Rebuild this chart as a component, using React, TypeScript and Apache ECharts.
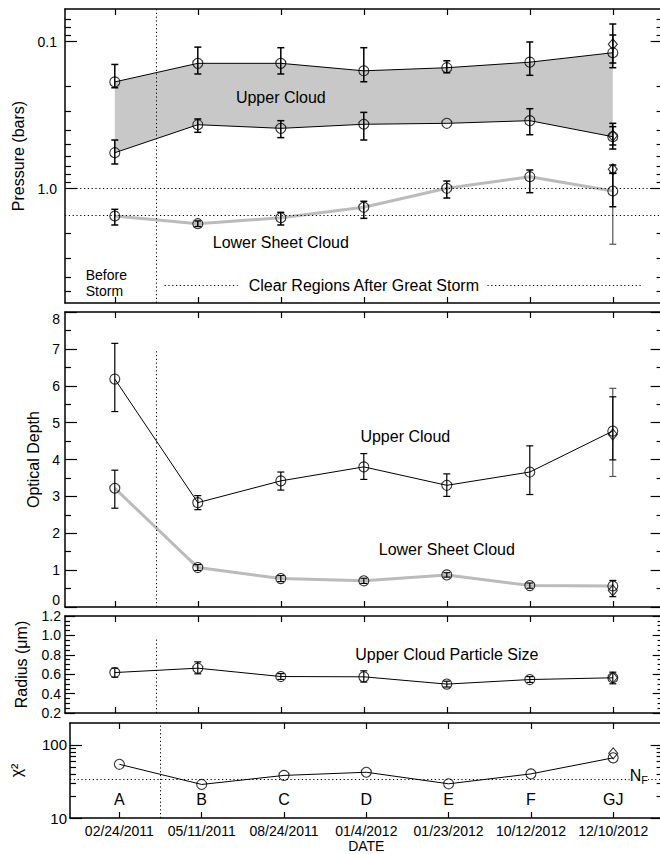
import React, { useEffect, useRef } from 'react';
import * as echarts from 'echarts';

// ---------- data ----------
const categories = ['A', 'B', 'C', 'D', 'E', 'F', 'GJ'];
const dates = ['02/24/2011', '05/11/2011', '08/24/2011', '01/4/2012', '01/23/2012', '10/12/2012', '12/10/2012'];

// Panel 1: pressure (bars)
const upperTopP = [0.188, 0.1405, 0.1405, 0.158, 0.1505, 0.138, 0.119];
const upperTopLo = [0.143, 0.109, 0.110, 0.110, 0.135, 0.1006, 0.0902];
const upperTopHi = [0.206, 0.166, 0.166, 0.1875, 0.163, 0.1695, 0.1505];
const upperBotP = [0.570, 0.3675, 0.389, 0.365, 0.3596, 0.345, 0.4436];
const upperBotLo = [0.467, 0.336, 0.345, 0.303, null, 0.286, 0.3596];
const upperBotHi = [0.680, 0.414, 0.450, 0.467, null, 0.430, 0.538];
const lowerP = [1.536, 1.733, 1.578, 1.34, 0.995, 0.83, 1.038];
const lowerPLo = [1.383, 1.66, 1.45, 1.22, 0.888, 0.747, 0.787];
const lowerPHi = [1.768, 1.81, 1.768, 1.593, 1.159, 1.066, 1.328];
// GJ alternative fit (diamonds): upper top, upper bottom, lower sheet
const gjDiamondP = [0.1043, 0.437, 0.739];
const gjDiamondPLo = [0.0759, 0.379, 0.691];
const gjDiamondPHi = [0.1398, 0.505, 0.787];
const gjLowerWideP = [0.787, 2.39];
const refPressures = [1.0, 1.5];

// Panel 2: optical depth
const upperTau = [6.18, 2.83, 3.42, 3.80, 3.30, 3.66, 4.77];
const upperTauLo = [5.30, 2.64, 3.17, 3.46, 3.00, 3.05, 3.99];
const upperTauHi = [7.15, 3.02, 3.66, 4.16, 3.61, 4.37, 5.70];
const lowerTau = [3.22, 1.07, 0.77, 0.71, 0.87, 0.58, 0.57];
const lowerTauLo = [2.68, 0.99, 0.69, 0.64, 0.81, 0.51, 0.28];
const lowerTauHi = [3.71, 1.15, 0.85, 0.78, 0.93, 0.65, 0.72];
const gjDiamondTau = [4.68, 0.45];
const gjUpperWideTau = [3.54, 5.93];

// Panel 3: radius (um)
const radius = [0.617, 0.662, 0.576, 0.573, 0.498, 0.545, 0.563];
const radiusLo = [0.570, 0.604, 0.546, 0.519, 0.468, 0.515, 0.501];
const radiusHi = [0.662, 0.727, 0.606, 0.635, 0.528, 0.575, 0.621];
const gjDiamondRadius = [0.565];

// Panel 4: chi^2
const chi2 = [54.4, 28.8, 38.3, 42.3, 29.4, 40.2, 66.7];
const gjDiamondChi2 = [76.9];
const nF = 34;

// ---------- helpers ----------
const FONT = 'Liberation Sans, Arial, Helvetica, sans-serif';
const L = (v: number) => Math.log10(v);
const I = (v: number) => v;
const GJ = 6;
const XMIN = -0.6;
const XMAX = 6.6;

const grids = [
  { left: 65, top: 9, width: 597.6, height: 294 },
  { left: 65, top: 312, width: 597.6, height: 295 },
  { left: 65, top: 616, width: 597.6, height: 97 },
  { left: 65, top: 723, width: 597.6, height: 98 },
];

// edgeLo / edgeHi: labels at the ends of the range, each on its own label-only axis
const panels: any[] = [
  {
    T: L, min: L(0.06), max: L(6), inverse: true,
    majors: [0.1, 1], labels: ['0.1', '1.0'], edgeLo: null, edgeHi: null,
    minors: [0.07, 0.08, 0.09, 0.2, 0.3, 0.4, 0.5, 0.6, 0.7, 0.8, 0.9, 2, 3, 4, 5],
    name: 'Pressure (bars)', nameGap: 34, margin: 8, fs: 14, majLen: 12, minLen: 6,
  },
  {
    T: I, min: 0, max: 8, inverse: false,
    majors: [0, 1, 2, 3, 4, 5, 6, 7, 8], labels: ['0', '1', '2', '3', '4', '5', '6', '7', '8'],
    edgeLo: { v: 0, va: 'bottom' }, edgeHi: { v: 8, va: 'top' },
    minors: [0.5, 1.5, 2.5, 3.5, 4.5, 5.5, 6.5, 7.5],
    name: 'Optical Depth', nameGap: 22, margin: 5, fs: 14, majLen: 12, minLen: 6,
  },
  {
    T: I, min: 0.2, max: 1.2, inverse: false,
    majors: [0.2, 0.4, 0.6, 0.8, 1.0, 1.2], labels: ['0.2', '0.4', '0.6', '0.8', '1.0', '1.2'],
    edgeLo: { v: 0.2, va: 'middle' }, edgeHi: { v: 1.2, va: 'middle' },
    minors: [0.25, 0.3, 0.35, 0.45, 0.5, 0.55, 0.65, 0.7, 0.75, 0.85, 0.9, 0.95, 1.05, 1.1, 1.15],
    name: 'Radius (\u03bcm)', nameGap: 36, margin: 4, fs: 14, majLen: 10, minLen: 5,
  },
  {
    T: L, min: 1, max: L(200), inverse: false,
    majors: [10, 100], labels: ['10', '100'], edgeLo: null, edgeHi: null,
    minors: [20, 30, 40, 50, 60, 70, 80, 90],
    name: '\u03c7\u00b2', nameGap: 46, margin: 3, fs: 15, majLen: 12, minLen: 6,
  },
];

const DOT: any = [1.2, 2.6];

function buildOption() {
  const xAxis: any[] = [];
  const yAxis: any[] = [];
  const idxTicks = categories.map((_, i) => i);
  grids.forEach((_, g) => {
    const base = {
      gridIndex: g, type: 'value', min: XMIN, max: XMAX,
      splitLine: { show: false },
      axisLine: { show: true, onZero: false, lineStyle: { color: '#000', width: 1.5 } },
      axisTick: { show: true, inside: true, length: 6, customValues: idxTicks, lineStyle: { color: '#000', width: 1.2 } },
    };
    xAxis.push({
      ...base, position: 'bottom',
      axisLabel: g === 3
        ? { show: true, customValues: idxTicks, formatter: (v: number) => dates[Math.round(v)] ?? '', margin: 6, fontSize: 14, fontFamily: FONT, color: '#000' }
        : { show: false },
      name: g === 3 ? 'DATE' : '', nameLocation: 'middle', nameGap: 21,
      nameTextStyle: { fontSize: 14, fontFamily: FONT, color: '#000' },
    });
    xAxis.push({ ...base, position: 'top', axisLabel: { show: false } });
  });

  panels.forEach((p, g) => {
    const majT = p.majors.map(p.T);
    const minT = p.minors.map(p.T);
    const edges = [p.edgeLo, p.edgeHi].filter(Boolean).map((e: any) => p.T(e.v));
    const innerT = majT.filter((m: number) => !edges.some((e: number) => Math.abs(e - m) < 1e-9));
    const fmt = (v: number) => {
      const k = majT.findIndex((m: number) => Math.abs(m - v) < 1e-6);
      return k >= 0 ? p.labels[k] : '';
    };
    const common = { gridIndex: g, type: 'value', min: p.min, max: p.max, inverse: p.inverse, splitLine: { show: false } };
    const labelBase = {
      show: true, formatter: fmt, margin: p.margin, fontSize: p.fs, fontFamily: FONT, color: '#000', hideOverlap: false,
    };
    for (const pos of ['left', 'right']) {
      yAxis.push({
        ...common, position: pos,
        axisLine: { show: true, onZero: false, lineStyle: { color: '#000', width: 1.5 } },
        axisTick: { show: true, inside: true, length: p.majLen, customValues: majT, lineStyle: { color: '#000', width: 1.2 } },
        axisLabel: pos === 'left' ? { ...labelBase, customValues: innerT } : { show: false },
        name: pos === 'left' ? p.name : '', nameLocation: 'middle', nameRotate: 90, nameGap: p.nameGap,
        nameTextStyle: { fontSize: 16, fontFamily: FONT, color: '#000' },
      });
      yAxis.push({
        ...common, position: pos,
        axisLine: { show: false, onZero: false },
        axisTick: { show: true, inside: true, length: p.minLen, customValues: minT, lineStyle: { color: '#000', width: 1.2 } },
        axisLabel: { show: false },
      });
    }
    // one label-only axis per range end
    for (const e of [p.edgeLo, p.edgeHi]) {
      yAxis.push({
        ...common, position: 'left',
        axisLine: { show: false, onZero: false },
        axisTick: { show: false },
        axisLabel: e
          ? {
              ...labelBase, customValues: [p.T(e.v)], showMinLabel: true, showMaxLabel: true,
              verticalAlign: e.va, verticalAlignMinLabel: e.va, verticalAlignMaxLabel: e.va,
            }
          : { show: false },
      });
    }
  });

  const series: any[] = [];
  const ax = (g: number) => ({ xAxisIndex: 2 * g, yAxisIndex: 6 * g });

  const lineS = (g: number, vals: number[], color: string, width: number, z: number, markLine?: any) => ({
    type: 'line', ...ax(g), silent: true, symbol: 'none', z,
    data: vals.map((v, i) => [i, panels[g].T(v)]),
    lineStyle: { color, width }, markLine,
  });
  const markS = (g: number, pts: [number, number][], symbol = 'circle', size: any = 10) => ({
    type: 'scatter', ...ax(g), silent: true, symbol, symbolSize: size, z: 6,
    data: pts.map(([x, v]) => [x, panels[g].T(v)]),
    itemStyle: { color: 'rgba(0,0,0,0)', borderColor: '#000', borderWidth: 1.1 },
  });
  const errS = (g: number, items: [number, number | null, number | null][], color = '#000', width = 1.5, z = 4) => ({
    type: 'custom', ...ax(g), silent: true, z,
    data: items.filter((d) => d[1] != null && d[2] != null).map(([x, lo, hi]) => [x, panels[g].T(lo as number), panels[g].T(hi as number)]),
    encode: { x: 0, y: [1, 2] },
    renderItem: (params: any, api: any) => {
      const x = api.value(0);
      const a = api.coord([x, api.value(1)]);
      const b = api.coord([x, api.value(2)]);
      const cw = 3.5;
      const style = { stroke: color, lineWidth: width };
      return {
        type: 'group',
        children: [
          { type: 'line', shape: { x1: a[0], y1: a[1], x2: b[0], y2: b[1] }, style },
          { type: 'line', shape: { x1: a[0] - cw, y1: a[1], x2: a[0] + cw, y2: a[1] }, style },
          { type: 'line', shape: { x1: b[0] - cw, y1: b[1], x2: b[0] + cw, y2: b[1] }, style },
        ],
      };
    },
  });
  const textS = (g: number, items: { t: string; x: number; v: number; align?: string; size?: number; rich?: any; bg?: string }[]) => ({
    type: 'custom', ...ax(g), silent: true, z: 8,
    data: items.map((d) => [d.x, panels[g].T(d.v)]),
    renderItem: (params: any, api: any) => {
      const d = items[params.dataIndex];
      const p = api.coord([api.value(0), api.value(1)]);
      return {
        type: 'text', x: p[0], y: p[1],
        style: {
          text: d.t, fontSize: d.size ?? 16, fontFamily: FONT, fill: '#000',
          align: d.align ?? 'center', verticalAlign: 'middle', rich: d.rich,
          backgroundColor: d.bg,
        },
      };
    },
  });
  const ml = (data: any[]) => ({
    silent: true, symbol: ['none', 'none'], label: { show: false }, animation: false,
    lineStyle: { type: DOT, color: '#000', width: 1 }, emphasis: { disabled: true }, data,
  });
  const idx = (arr: any[]) => arr.map((_, i) => i);

  // ---- Panel 1 ----
  const T0 = panels[0].T;
  series.push({
    type: 'custom', ...ax(0), silent: true, z: 1,
    data: [[0, T0(upperTopP[0])]],
    renderItem: (params: any, api: any) => {
      const top = upperTopP.map((v, i) => api.coord([i, T0(v)]));
      const bot = upperBotP.map((v, i) => api.coord([i, T0(v)])).reverse();
      return { type: 'polygon', shape: { points: [...top, ...bot] }, style: { fill: '#c8c8c8' } };
    },
  });
  series.push(lineS(0, upperTopP, '#000', 1, 3, ml([
    ...refPressures.map((v) => ({ yAxis: T0(v) })),
    { xAxis: 0.5 },
    [{ coord: [0.6, T0(4.53)] }, { coord: [1.48, T0(4.53)] }],
    [{ coord: [4.49, T0(4.53)] }, { coord: [6.36, T0(4.53)] }],
  ])));
  series.push(lineS(0, upperBotP, '#000', 1, 3));
  series.push(lineS(0, lowerP, '#bbbbbb', 3, 3));
  series.push(errS(0, idx(upperTopP).map((i) => [i, upperTopLo[i], upperTopHi[i]])));
  series.push(errS(0, idx(upperBotP).map((i) => [i, upperBotLo[i], upperBotHi[i]])));
  series.push(errS(0, [[GJ, gjLowerWideP[0], gjLowerWideP[1]]], '#555', 1.2, 3));
  series.push(errS(0, idx(lowerP).map((i) => [i, lowerPLo[i], lowerPHi[i]])));
  series.push(errS(0, gjDiamondP.map((v, k) => [GJ, gjDiamondPLo[k], gjDiamondPHi[k]])));
  series.push(markS(0, [...upperTopP, ...upperBotP, ...lowerP].map((v, k) => [k % 7, v] as [number, number])));
  series.push(markS(0, gjDiamondP.map((v) => [GJ, v] as [number, number]), 'diamond', [9, 11]));
  series.push(textS(0, [
    { t: 'Upper Cloud', x: 2.0, v: 0.241 },
    { t: 'Lower Sheet Cloud', x: 2.0, v: 2.34 },
    { t: 'Before', x: -0.35, v: 3.85, align: 'left', size: 14 },
    { t: 'Storm', x: -0.35, v: 4.96, align: 'left', size: 14 },
    { t: 'Clear Regions After Great Storm', x: 3.0, v: 4.53 },
  ]));

  // ---- Panel 2 ----
  series.push(lineS(1, upperTau, '#000', 1, 3, ml([
    [{ coord: [0.5, 0] }, { coord: [0.5, 7] }],
  ])));
  series.push(lineS(1, lowerTau, '#bbbbbb', 3, 3));
  series.push(errS(1, [[GJ, gjUpperWideTau[0], gjUpperWideTau[1]]], '#555', 1.2, 3));
  series.push(errS(1, idx(upperTau).map((i) => [i, upperTauLo[i], upperTauHi[i]]), '#000', 1.2));
  series.push(errS(1, idx(lowerTau).map((i) => [i, lowerTauLo[i], lowerTauHi[i]]), '#000', 1.2));
  series.push(markS(1, [...upperTau, ...lowerTau].map((v, k) => [k % 7, v] as [number, number])));
  series.push(markS(1, gjDiamondTau.map((v) => [GJ, v] as [number, number]), 'diamond', [9, 11]));
  series.push(textS(1, [
    { t: 'Upper Cloud', x: 3.5, v: 4.62 },
    { t: 'Lower Sheet Cloud', x: 4.0, v: 1.55 },
  ]));

  // ---- Panel 3 ----
  series.push(lineS(2, radius, '#000', 1, 3, ml([
    [{ coord: [0.5, 0.2] }, { coord: [0.5, 0.97] }],
  ])));
  series.push(errS(2, idx(radius).map((i) => [i, radiusLo[i], radiusHi[i]]), '#000', 1.2));
  series.push(markS(2, radius.map((v, i) => [i, v] as [number, number])));
  series.push(markS(2, gjDiamondRadius.map((v) => [GJ, v] as [number, number]), 'diamond', [9, 11]));
  series.push(textS(2, [{ t: 'Upper Cloud Particle Size', x: 4.0, v: 0.806 }]));

  // ---- Panel 4 ----
  const T3 = panels[3].T;
  series.push(lineS(3, chi2, '#000', 1, 3, ml([
    { xAxis: 0.5 },
    { yAxis: T3(nF) },
  ])));
  series.push(markS(3, chi2.map((v, i) => [i, v] as [number, number])));
  series.push(markS(3, gjDiamondChi2.map((v) => [GJ, v] as [number, number]), 'diamond', [9, 11]));
  series.push(textS(3, [
    ...categories.map((c, i) => ({ t: c, x: i, v: 18.1 })),
    {
      t: '{n|N}{f|F}', x: 6.2, v: 38, align: 'left', bg: '#fff',
      rich: { n: { fontSize: 16, fontFamily: FONT }, f: { fontSize: 11, fontFamily: FONT, padding: [9, 0, 0, 0] } },
    },
  ]));

  return {
    animation: false,
    backgroundColor: '#fff',
    grid: grids.map((g) => ({ ...g, containLabel: false })),
    xAxis,
    yAxis,
    series,
  };
}

export default function App() {
  const ref = useRef<HTMLDivElement>(null);
  useEffect(() => {
    const chart = echarts.init(ref.current!, null, { renderer: 'svg' });
    chart.setOption(buildOption() as any);
    return () => chart.dispose();
  }, []);
  return (
    <div style={{ position: 'fixed', left: 0, top: 0, width: 660, height: 854, overflow: 'hidden', background: '#fff' }}>
      <div ref={ref} style={{ width: 670, height: 854 }} />
    </div>
  );
}
